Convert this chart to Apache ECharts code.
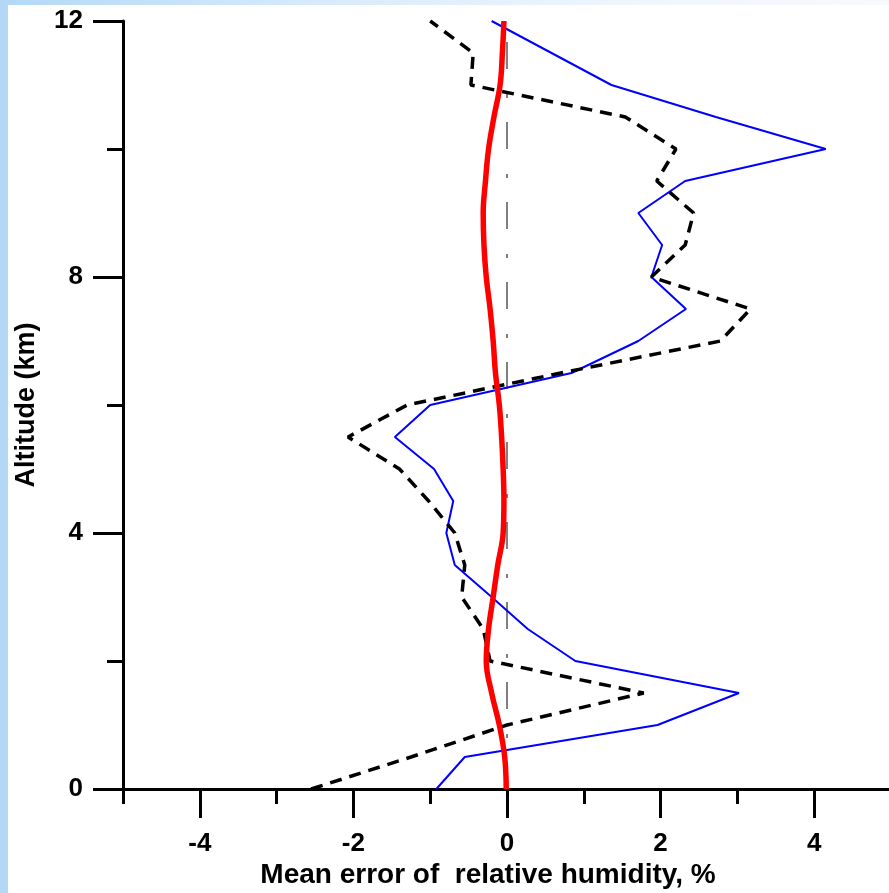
<!DOCTYPE html>
<html>
<head>
<meta charset="utf-8">
<script src="https://cdn.jsdelivr.net/npm/echarts@6/dist/echarts.min.js"></script>
<style>
  html, body { margin: 0; padding: 0; width: 889px; height: 893px; overflow: hidden;
    background: linear-gradient(to right, #b3d8f6 0%, #d6eafb 35%, #eef6fd 70%, #f6fafe 100%); }
  #paper { position: absolute; left: 8px; top: 5px; right: 0; bottom: 0; background: #ffffff; }
  #chart { position: absolute; left: 0; top: 0; width: 910px; height: 893px; }
</style>
</head>
<body>
<div id="paper"></div>
<div id="chart"></div>
<script>
// Altitude (km) levels and mean errors of relative humidity (%)
var blueAlt = [0, 0.5, 1, 1.5, 2, 2.5, 3, 3.5, 4, 4.5, 5, 5.5, 6, 6.5, 7, 7.5, 8, 8.5, 9, 9.5, 10, 10.5, 11, 11.5, 12];
var blueErr = [-0.92, -0.55, 1.96, 3.02, 0.89, 0.27, -0.2, -0.68, -0.79, -0.7, -0.95, -1.46, -1.0, 0.84, 1.71, 2.33, 1.88, 2.02, 1.71, 2.32, 4.15, 2.72, 1.36, 0.58, -0.2];

var dashAlt = [0, 0.5, 1, 1.5, 2, 2.5, 3, 3.5, 4, 4.5, 5, 5.5, 6, 6.5, 7, 7.5, 8, 8.5, 9, 9.5, 10, 10.5, 11, 11.5, 12];
var dashErr = [-2.55, -1.25, 0.0, 1.78, -0.22, -0.31, -0.59, -0.55, -0.68, -1.02, -1.4, -2.07, -1.3, 0.7, 2.78, 3.17, 1.88, 2.32, 2.43, 1.95, 2.2, 1.54, -0.47, -0.44, -1.0];

var redAlt = [0, 0.5, 1, 1.5, 2, 2.5, 3, 3.5, 4, 4.5, 5, 5.5, 6, 6.5, 7, 7.5, 8, 8.5, 9, 9.5, 10, 10.5, 11, 11.5, 12];
var redErr = [-0.01, -0.03, -0.1, -0.2, -0.27, -0.24, -0.18, -0.12, -0.05, -0.04, -0.05, -0.07, -0.1, -0.15, -0.18, -0.22, -0.27, -0.3, -0.31, -0.28, -0.24, -0.17, -0.09, -0.06, -0.04];

var zeroAlt = [0, 12];
var zeroErr = [0, 0];

var xLabelValues = [-4, -2, 0, 2, 4];
var yLabelValues = [0, 4, 8, 12];

var xTitle = 'Mean error of  relative humidity, %';
var yTitle = 'Altitude (km)';

function pairs(xs, ys) { return xs.map(function (x, i) { return [x, ys[i]]; }); }

var FONT = 'Arial, "Liberation Sans", sans-serif';
var UNIT = 76.8; // px per 1 % on the x axis
var chart = echarts.init(document.getElementById('chart'), null, { renderer: 'canvas' });
chart.setOption({
  animation: false,
  grid: [
    { left: 123, top: 21, width: 768, height: 768 },
    // helper grid carrying the long, labelled x ticks (-4 .. 4)
    { left: 123 + UNIT, top: 21, width: UNIT * 8, height: 768 }
  ],
  xAxis: [{
    gridIndex: 0, type: 'value', min: -5, max: 5, interval: 1, position: 'bottom',
    axisLine: { show: true, onZero: false, lineStyle: { color: '#000', width: 3 } },
    axisTick: { show: true, length: 15, lineStyle: { color: '#000', width: 3 } },
    axisLabel: { show: false }, splitLine: { show: false }
  }, {
    gridIndex: 1, type: 'value', min: -4, max: 4, interval: 2, position: 'bottom',
    axisLine: { show: true, onZero: false, lineStyle: { color: 'rgba(0,0,0,0)', width: 0 } },
    axisTick: { show: true, length: 29, lineStyle: { color: '#000', width: 3 } },
    axisLabel: { show: true, margin: 42, color: '#000', fontSize: 26, fontWeight: 'bold', fontFamily: FONT },
    splitLine: { show: false }
  }],
  yAxis: [{
    gridIndex: 0, type: 'value', min: 0, max: 12, interval: 4,
    axisLine: { show: true, onZero: false, lineStyle: { color: '#000', width: 3 } },
    axisTick: { show: true, length: 30, lineStyle: { color: '#000', width: 3 } },
    minorTick: { show: true, splitNumber: 2, length: 16, lineStyle: { color: '#000', width: 3 } },
    axisLabel: { show: true, margin: 40, fontSize: 26, fontWeight: 'bold', color: '#000', fontFamily: FONT },
    splitLine: { show: false }
  }, {
    gridIndex: 1, type: 'value', min: 0, max: 12, interval: 4,
    axisLine: { show: false, onZero: false }, axisTick: { show: false }, axisLabel: { show: false }, splitLine: { show: false }
  }],
  graphic: [{
    type: 'text', x: 488, y: 875,
    style: { text: xTitle, fill: '#000', font: 'bold 28px ' + FONT, align: 'center', verticalAlign: 'middle' }
  }, {
    type: 'text', x: 27, y: 405, rotation: Math.PI / 2,
    style: { text: yTitle, fill: '#000', font: 'bold 27px ' + FONT, align: 'center', verticalAlign: 'middle' }
  }],
  series: [{
    type: 'line', xAxisIndex: 1, yAxisIndex: 1, data: pairs(zeroErr, zeroAlt), symbol: 'none',
    lineStyle: { color: '#000', width: 1, type: [27, 24, 4, 25] }
  }, {
    type: 'line', xAxisIndex: 0, yAxisIndex: 0, data: pairs(blueErr, blueAlt), symbol: 'none',
    lineStyle: { color: '#0000ff', width: 2 }
  }, {
    type: 'line', xAxisIndex: 0, yAxisIndex: 0, data: pairs(dashErr, dashAlt), symbol: 'none',
    lineStyle: { color: '#000', width: 3.5, type: [12, 8] }
  }, {
    type: 'line', xAxisIndex: 0, yAxisIndex: 0, data: pairs(redErr, redAlt), symbol: 'none', smooth: 0.4,
    lineStyle: { color: '#ff0000', width: 5.5 }
  }]
});
</script>
</body>
</html>
